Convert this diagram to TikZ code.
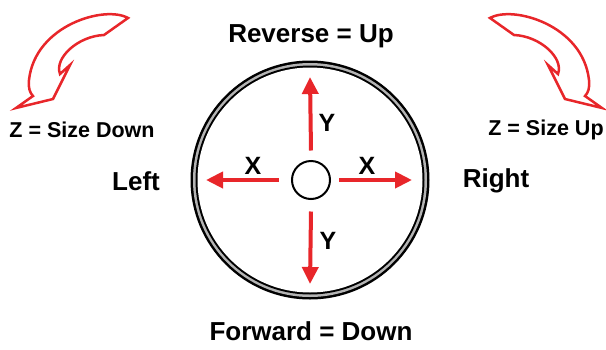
\documentclass[tikz,border=0pt]{standalone}
\usepackage{fontspec}
\setmainfont{Liberation Sans}
\usetikzlibrary{arrows.meta}
\definecolor{jred}{HTML}{E8262A}
\definecolor{ringgray}{HTML}{B4B4B4}
\begin{document}
\begin{tikzpicture}[x=1pt,y=-1pt,
  lbl/.style={font=\bfseries\fontsize{26}{29}\selectfont, inner sep=0pt},
  zlbl/.style={font=\bfseries\fontsize{21.5}{24}\selectfont, inner sep=0pt},
  axlbl/.style={font=\bfseries\fontsize{25}{28}\selectfont, inner sep=0pt},
  jarrow/.style={draw=jred, line width=4pt, -{Triangle[length=17pt,width=16pt]}},
  zarrow/.style={draw=jred, fill=white, line width=2.5pt, line join=miter}]
\useasboundingbox (0,0) rectangle (606,349);
% ring
\fill[black] (310,180) circle[radius=119.5];
\fill[ringgray] (310,180) circle[radius=117];
\fill[black] (310,180) circle[radius=114.5];
\fill[white] (310,180) circle[radius=112.5];
% centre
\node[circle, draw, line width=2pt, minimum size=38pt, inner sep=0pt] (c) at (311,180) {};
\coordinate (uptip) at (310,77);
\coordinate (dntip) at (310,284);
\coordinate (lftip) at (206,180);
\coordinate (rttip) at (412,180);
\draw[jarrow] ([yshift=29.5pt]c.center) -- (uptip);
\draw[jarrow] ([yshift=-31.5pt]c.center) -- (dntip);
\draw[jarrow] ([xshift=-32.5pt]c.center) -- (lftip);
\draw[jarrow] ([xshift=28pt]c.center) -- (rttip);
% axis labels
\node[axlbl] (y1) at (327,123) {Y};
\node[axlbl] (y2) at (328,241) {Y};
\node[axlbl] (x1) at (253,166) {X};
\node[axlbl] (x2) at (367,166) {X};
% direction labels
\node[lbl] (rev) at (311,36) {Reverse = Up};
\node[lbl] (fwd) at (311,331) {Forward = Down};
\node[lbl] (left) at (136,181) {Left};
\node[lbl] (right) at (496,181) {Right};
\node[zlbl] (zd) at (82,130) {Z = Size Down};
\node[zlbl] (zu) at (546,130) {Z = Size Up};
% curved arrows
\draw[zarrow] (16,108) -- (53,99) -- (70,65) -- (60,74)
  .. controls (54,58) and (78,36) .. (104,35) -- (128,18)
  .. controls (105,5) and (35,25) .. (29,80)
  .. controls (28,88) and (30,93) .. (33,96) -- cycle;
\begin{scope}[xshift=618pt, xscale=-1]
\draw[zarrow] (16,108) -- (53,99) -- (70,65) -- (60,74)
  .. controls (54,58) and (78,36) .. (104,35) -- (128,18)
  .. controls (105,5) and (35,25) .. (29,80)
  .. controls (28,88) and (30,93) .. (33,96) -- cycle;
\end{scope}
\end{tikzpicture}
\end{document}
